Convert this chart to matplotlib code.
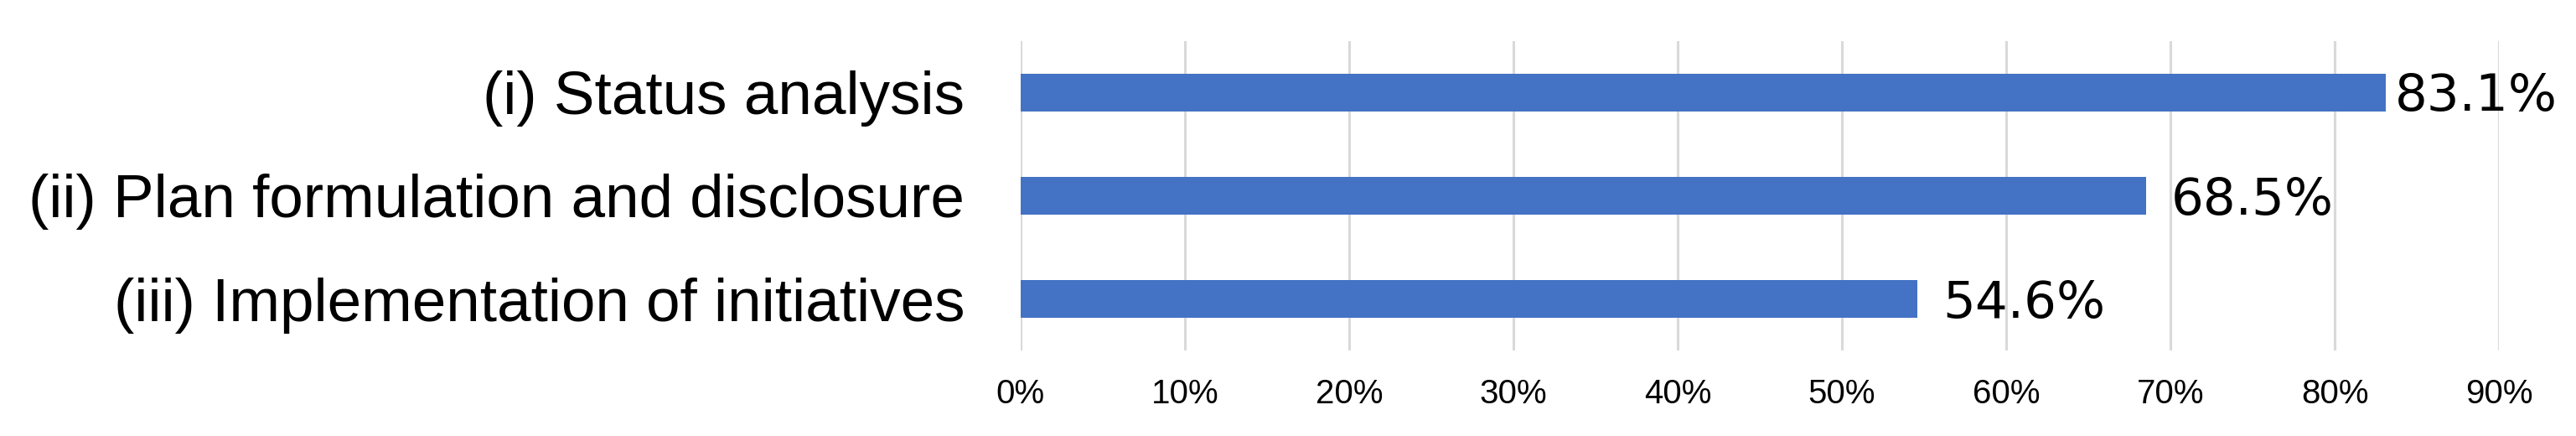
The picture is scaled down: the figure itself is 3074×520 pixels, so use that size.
import matplotlib.pyplot as plt

categories = ["(i) Status analysis",
              "(ii) Plan formulation and disclosure",
              "(iii) Implementation of initiatives"]
values = [83.1, 68.5, 54.6]
value_labels = ["83.1%", "68.5%", "54.6%"]
label_offsets = [8, 22, 22]  # points right of bar end
ticks = [0, 10, 20, 30, 40, 50, 60, 70, 80, 90]

fig = plt.figure(figsize=(30.74, 5.2), dpi=100)
ax = fig.add_axes([0.3962, 0.196, 0.5739, 0.71])

y = list(range(len(categories)))
ax.barh(y, values, height=0.36, color='#4472C4', zorder=3)

for i in range(len(values)):
    ax.annotate(value_labels[i], (values[i], y[i]), xytext=(label_offsets[i], -4),
                textcoords='offset points', va='center', ha='left',
                fontsize=44, family='DejaVu Sans')

ax.set_xlim(0, 90)
ax.set_ylim(2.5, -0.5)
ax.set_xticks(ticks)
ax.set_xticklabels([str(t) + "%" for t in ticks], fontsize=29, family='Liberation Sans')
ax.set_yticks(y)
ax.set_yticklabels(categories, fontsize=52.5, family='Liberation Sans')
ax.tick_params(axis='x', length=0, pad=24)
ax.tick_params(axis='y', length=0, pad=48)
ax.grid(axis='x', color='#d9d9d9', linewidth=2.2, zorder=0)
for s in ax.spines.values():
    s.set_visible(False)

fig.savefig("out.png", dpi=100)
